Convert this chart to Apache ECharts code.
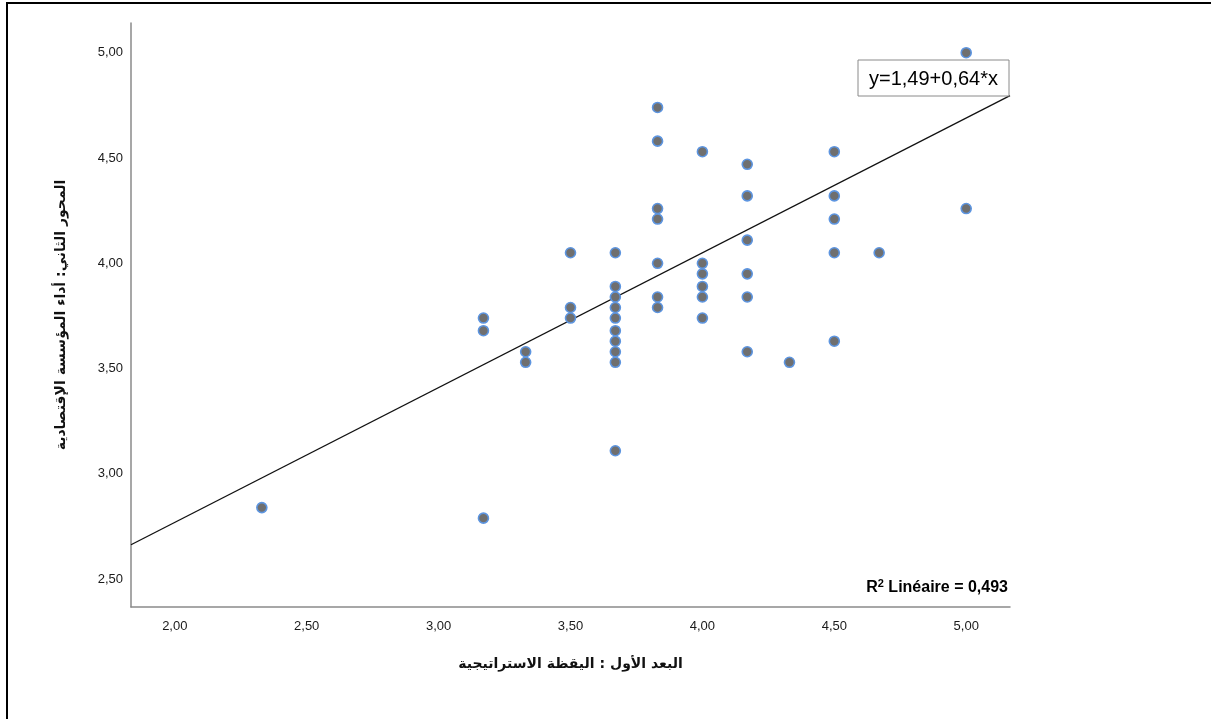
<!DOCTYPE html>
<html>
<head>
<meta charset="utf-8">
<script src="https://cdn.jsdelivr.net/npm/echarts@6/dist/echarts.min.js"></script>
<style>
html,body{margin:0;padding:0;background:#fff;}
#c{width:1211px;height:719px;}
</style>
</head>
<body>
<div id="c"></div>
<script>
// x: البعد الأول : اليقظة الاستراتيجية ; y: المحور الثاني: أداء المؤسسة الإقتصادية
const xValues = [2.33,
  3.17,3.17,3.17,
  3.33,3.33,
  3.50,3.50,3.50,
  3.67,3.67,3.67,3.67,3.67,3.67,3.67,3.67,3.67,3.67,
  3.83,3.83,3.83,3.83,3.83,3.83,3.83,
  4.00,4.00,4.00,4.00,4.00,4.00,
  4.17,4.17,4.17,4.17,4.17,4.17,
  4.33,
  4.50,4.50,4.50,4.50,4.50,
  4.67,
  5.00,5.00];
const yValues = [2.84,
  3.74,3.68,2.79,
  3.58,3.53,
  4.05,3.79,3.74,
  4.05,3.89,3.84,3.79,3.74,3.68,3.63,3.58,3.53,3.11,
  4.74,4.58,4.26,4.21,4.00,3.84,3.79,
  4.53,4.00,3.95,3.89,3.84,3.74,
  4.47,4.32,4.11,3.95,3.84,3.58,
  3.53,
  4.53,4.32,4.21,4.05,3.63,
  4.05,
  5.00,4.26];
const tickValues = [2.0,2.5,3.0,3.5,4.0,4.5,5.0];
const fitIntercept = 1.49;
const fitSlope = 0.64;
const rSquared = 0.493;
const xRange = [1.834, 5.166];
const yRange = [2.368, 5.141];

const fmt = v => v.toFixed(2).replace('.', ',');
const points = xValues.map((x, i) => [x, yValues[i]]);
const fitLine = xRange.map(x => [x, fitIntercept + fitSlope * x]);

const chart = echarts.init(document.getElementById('c'), null, {renderer: 'canvas'});
const labelFont = {fontFamily: 'Liberation Sans, Arial, sans-serif', fontSize: 13, color: '#1a1a1a'};
chart.setOption({
  animation: false,
  backgroundColor: '#fff',
  grid: {left: 131, top: 23, width: 879, height: 584, containLabel: false},
  xAxis: {
    type: 'value', min: xRange[0], max: xRange[1],
    splitLine: {show: false},
    axisLine: {show: true, onZero: false, lineStyle: {color: '#8a8a8a', width: 1.5}},
    axisTick: {show: false},
    axisLabel: Object.assign({customValues: tickValues, formatter: fmt, margin: 13}, labelFont),
    name: 'البعد الأول : اليقظة الاستراتيجية',
    nameLocation: 'middle', nameGap: 50,
    nameTextStyle: {fontFamily: 'DejaVu Sans, sans-serif', fontSize: 14, fontWeight: 'bold', color: '#111'}
  },
  yAxis: {
    type: 'value', min: yRange[0], max: yRange[1],
    splitLine: {show: false},
    axisLine: {show: true, onZero: false, lineStyle: {color: '#8a8a8a', width: 1.5}},
    axisTick: {show: false},
    axisLabel: Object.assign({customValues: tickValues, formatter: fmt, margin: 8}, labelFont),
    name: 'المحور الثاني: أداء المؤسسة الإقتصادية',
    nameLocation: 'middle', nameGap: 63, nameRotate: 90,
    nameTextStyle: {fontFamily: 'DejaVu Sans, sans-serif', fontSize: 14, fontWeight: 'bold', color: '#111'}
  },
  series: [
    {
      type: 'line', data: fitLine, symbol: 'none', silent: true,
      lineStyle: {color: '#111', width: 1.3}, z: 2
    },
    {
      type: 'scatter', data: points, symbol: 'circle', symbolSize: 10,
      itemStyle: {color: '#6f6f6f', borderColor: '#5d95e0', borderWidth: 1.6, opacity: 1},
      z: 3
    }
  ],
  graphic: [
    {type: 'rect', shape: {x: 7, y: 3, width: 1230, height: 740}, style: {fill: 'none', stroke: '#000', lineWidth: 2}, silent: true},
    {type: 'rect', shape: {x: 858, y: 60, width: 151, height: 36}, style: {fill: '#fff', stroke: '#8a8a8a', lineWidth: 1}, z: 10},
    {type: 'text', x: 933.5, y: 79, z: 11, style: {
      text: 'y=' + fmt(fitIntercept) + '+' + fmt(fitSlope) + '*x',
      font: '20px "Liberation Sans", Arial, sans-serif', fill: '#000', align: 'center', verticalAlign: 'middle'}},
    {type: 'text', x: 1008, y: 587, z: 11, style: {
      text: '{a|R}{s|2}{a| Linéaire = ' + rSquared.toFixed(3).replace('.', ',') + '}',
      align: 'right', verticalAlign: 'middle',
      rich: {
        a: {font: 'bold 16px "Liberation Sans", Arial, sans-serif', fill: '#000', verticalAlign: 'bottom'},
        s: {font: 'bold 11px "Liberation Sans", Arial, sans-serif', fill: '#000', verticalAlign: 'top', padding: [0, 0, 6, 0]}
      }}}
  ]
});
</script>
</body>
</html>
